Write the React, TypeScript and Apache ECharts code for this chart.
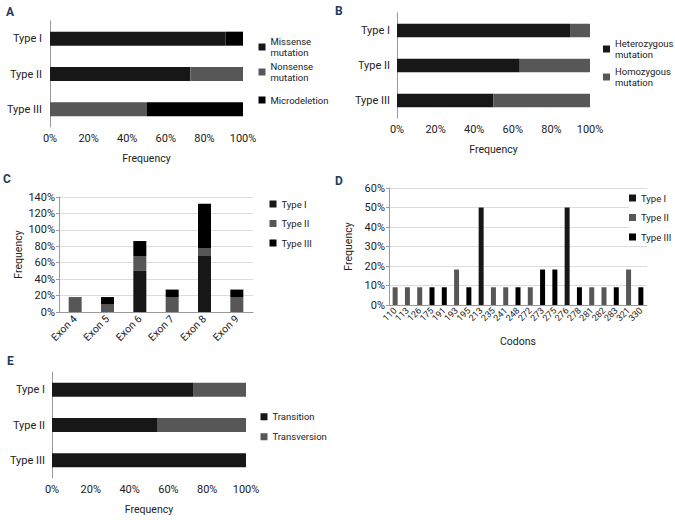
import React, { useEffect, useRef } from "react";
import * as echarts from "echarts";

const FONT = "Roboto, 'DejaVu Sans Condensed', sans-serif";

// Panel A
const typeCats = ["Type I", "Type II", "Type III"];
const aMissense = [90.9, 72.7, 0];
const aNonsense = [0, 27.3, 50];
const aMicrodeletion = [9.1, 0, 50];
// Panel B
const bHetero = [90, 63.6, 50];
const bHomo = [10, 36.4, 50];
// Panel C
const exons = ["Exon 4", "Exon 5", "Exon 6", "Exon 7", "Exon 8", "Exon 9"];
const cType1 = [0, 0, 50, 0, 68.2, 0];
const cType2 = [18.2, 9.1, 18.2, 18.2, 9.1, 18.2];
const cType3 = [0, 9.1, 18.2, 9.1, 54.5, 9.1];
// Panel D
const codons = ["110", "113", "126", "175", "191", "193", "195", "213", "235", "241", "248", "272", "273", "275", "276", "278", "281", "282", "283", "321", "330"];
const dType1 = [0, 0, 0, 0, 0, 0, 0, 50, 0, 0, 0, 0, 0, 0, 50, 0, 0, 0, 0, 0, 0];
const dType2 = [9.1, 9.1, 9.1, 0, 0, 18.2, 0, 0, 9.1, 9.1, 0, 9.1, 0, 0, 0, 0, 9.1, 9.1, 0, 18.2, 0];
const dType3 = [0, 0, 0, 9.1, 9.1, 0, 9.1, 0, 0, 0, 9.1, 0, 18.2, 18.2, 0, 9.1, 0, 0, 9.1, 0, 9.1];
// Panel E
const eTransition = [72.7, 54.5, 100];
const eTransversion = [27.3, 45.5, 0];

const C1 = "#171717";
const C2 = "#575757";
const C3 = "#000000";
const TXT = "#222";
const AX = "#9a9a9a";
const LETTER = "#1e3b5c";
const LH = 10.5;

export default function App() {
  const ref = useRef<HTMLDivElement>(null);
  useEffect(() => {
    document.body.style.margin = "0";
    const chart = echarts.init(ref.current!, null, { renderer: "svg" });

    const valueX = (grid: number) => ({
      type: "value", gridIndex: grid, min: 0, max: 100, interval: 20,
      axisLabel: { formatter: "{value}%", fontSize: 11, color: TXT, margin: 6 },
      axisLine: { show: false }, axisTick: { show: false }, splitLine: { show: false },
      name: "Frequency", nameLocation: "middle", nameGap: 26,
      nameTextStyle: { fontSize: 10.5, color: TXT },
    });
    const catY = (grid: number, margin: number) => ({
      type: "category", gridIndex: grid, data: typeCats, inverse: true,
      axisLabel: { fontSize: 11, color: TXT, margin },
      axisLine: { lineStyle: { color: AX } },
      axisTick: { length: 4, lineStyle: { color: AX } },
    });
    const baseLegend = {
      orient: "vertical", itemWidth: 7, itemHeight: 7, icon: "rect", selectedMode: false, padding: 0,
      textStyle: { fontSize: 9.5, color: TXT, lineHeight: LH, fontFamily: FONT },
    };
    // one legend per item, for exact vertical placement; two-line items align icon with first line
    const legendItem = (name: string, left: number, iconCenterY: number) => {
      const twoLine = name.indexOf(" mutation") >= 0;
      return {
        ...baseLegend,
        left,
        top: twoLine ? iconCenterY - LH * 1.5 : iconCenterY - LH / 2,
        data: [twoLine ? { name, textStyle: { padding: [LH, 0, 0, 0] } } : name],
        formatter: (n: string) => n.replace(" mutation", "\nmutation"),
      };
    };
    const legendList = (data: string[], left: number, top: number, gap: number, extra: any = {}) => ({
      ...baseLegend, data, left, top, itemGap: gap, ...extra,
    });
    const bar = (name: string, x: number, stack: string, data: number[], color: string, w: number) => ({
      type: "bar", name, xAxisIndex: x, yAxisIndex: x, stack, data, barWidth: w,
      itemStyle: { color }, emphasis: { disabled: true },
    });
    const letter = (t: string, left: number, top: number) => ({
      type: "text", left, top, style: { text: t, fontSize: 12, fontWeight: "bold", fill: LETTER, fontFamily: FONT },
    });

    chart.setOption({
      animation: false,
      textStyle: { fontFamily: FONT },
      grid: [
        { left: 50, top: 21, width: 193, height: 106 },
        { left: 397, top: 13, width: 193, height: 105 },
        { left: 59, top: 197, width: 194, height: 115 },
        { left: 389, top: 188, width: 258, height: 117 },
        { left: 52, top: 372, width: 194, height: 106 },
      ],
      xAxis: [
        valueX(0),
        valueX(1),
        {
          type: "category", gridIndex: 2, data: exons,
          axisLabel: { rotate: 45, interval: 0, fontSize: 10.5, color: TXT, margin: 5 },
          axisLine: { lineStyle: { color: AX } }, axisTick: { show: false },
        },
        {
          type: "category", gridIndex: 3, data: codons,
          axisLabel: { rotate: 45, fontSize: 9, color: TXT, margin: 4, interval: 0 },
          axisLine: { lineStyle: { color: AX } }, axisTick: { length: 3, lineStyle: { color: AX } },
          name: "Codons", nameLocation: "middle", nameGap: 31,
          nameTextStyle: { fontSize: 10.5, color: TXT },
        },
        valueX(4),
      ],
      yAxis: [
        catY(0, 8),
        catY(1, 7),
        {
          type: "value", gridIndex: 2, min: 0, max: 140, interval: 20,
          axisLabel: { formatter: "{value}%", fontSize: 11, color: TXT, margin: 4 },
          axisLine: { show: true, lineStyle: { color: AX } },
          axisTick: { show: true, length: 3, lineStyle: { color: AX } },
          splitLine: { lineStyle: { color: "#dcdcdc" } },
          name: "Frequency", nameLocation: "middle", nameGap: 33,
          nameTextStyle: { fontSize: 10.5, color: TXT },
        },
        {
          type: "value", gridIndex: 3, min: 0, max: 60, interval: 10,
          axisLabel: { formatter: "{value}%", fontSize: 11, color: TXT, margin: 4 },
          axisLine: { show: true, lineStyle: { color: AX } },
          axisTick: { show: true, length: 3, lineStyle: { color: AX } },
          splitLine: { lineStyle: { color: "#dcdcdc" } },
          name: "Frequency", nameLocation: "middle", nameGap: 35,
          nameTextStyle: { fontSize: 10.5, color: TXT },
        },
        catY(4, 7),
      ],
      legend: [
        legendItem("Missense mutation", 258.5, 47),
        legendItem("Nonsense mutation", 258.5, 72),
        legendItem("Microdeletion", 258.5, 100),
        legendItem("Heterozygous mutation", 603, 49),
        legendItem("Homozygous mutation", 603, 77),
        legendList(["Type I", "Type II", "Type III"], 269.5, 198.75, 9),
        legendList(["Type I", "Type II", "Type III"], 629, 190.75, 9, { backgroundColor: "#fff", padding: [2, 0, 2, 0] }),
        legendList(["Transition", "Transversion"], 260.5, 411.5, 9.5),
      ],
      graphic: [
        letter("A", 6, 6),
        letter("B", 335, 5),
        letter("C", 3, 173),
        letter("D", 335, 175),
        letter("E", 7, 355),
      ],
      series: [
        bar("Missense mutation", 0, "a", aMissense, C1, 14),
        bar("Nonsense mutation", 0, "a", aNonsense, C2, 14),
        bar("Microdeletion", 0, "a", aMicrodeletion, C3, 14),
        bar("Heterozygous mutation", 1, "b", bHetero, C1, 13.5),
        bar("Homozygous mutation", 1, "b", bHomo, C2, 13.5),
        bar("Type I", 2, "c", cType1, C1, 13),
        bar("Type II", 2, "c", cType2, C2, 13),
        bar("Type III", 2, "c", cType3, C3, 13),
        bar("Type I", 3, "d", dType1, C1, 5),
        bar("Type II", 3, "d", dType2, C2, 5),
        bar("Type III", 3, "d", dType3, C3, 5),
        bar("Transition", 4, "e", eTransition, C1, 14),
        bar("Transversion", 4, "e", eTransversion, C2, 14),
      ],
    });
    return () => chart.dispose();
  }, []);
  return <div ref={ref} style={{ width: 675, height: 520 }} />;
}
